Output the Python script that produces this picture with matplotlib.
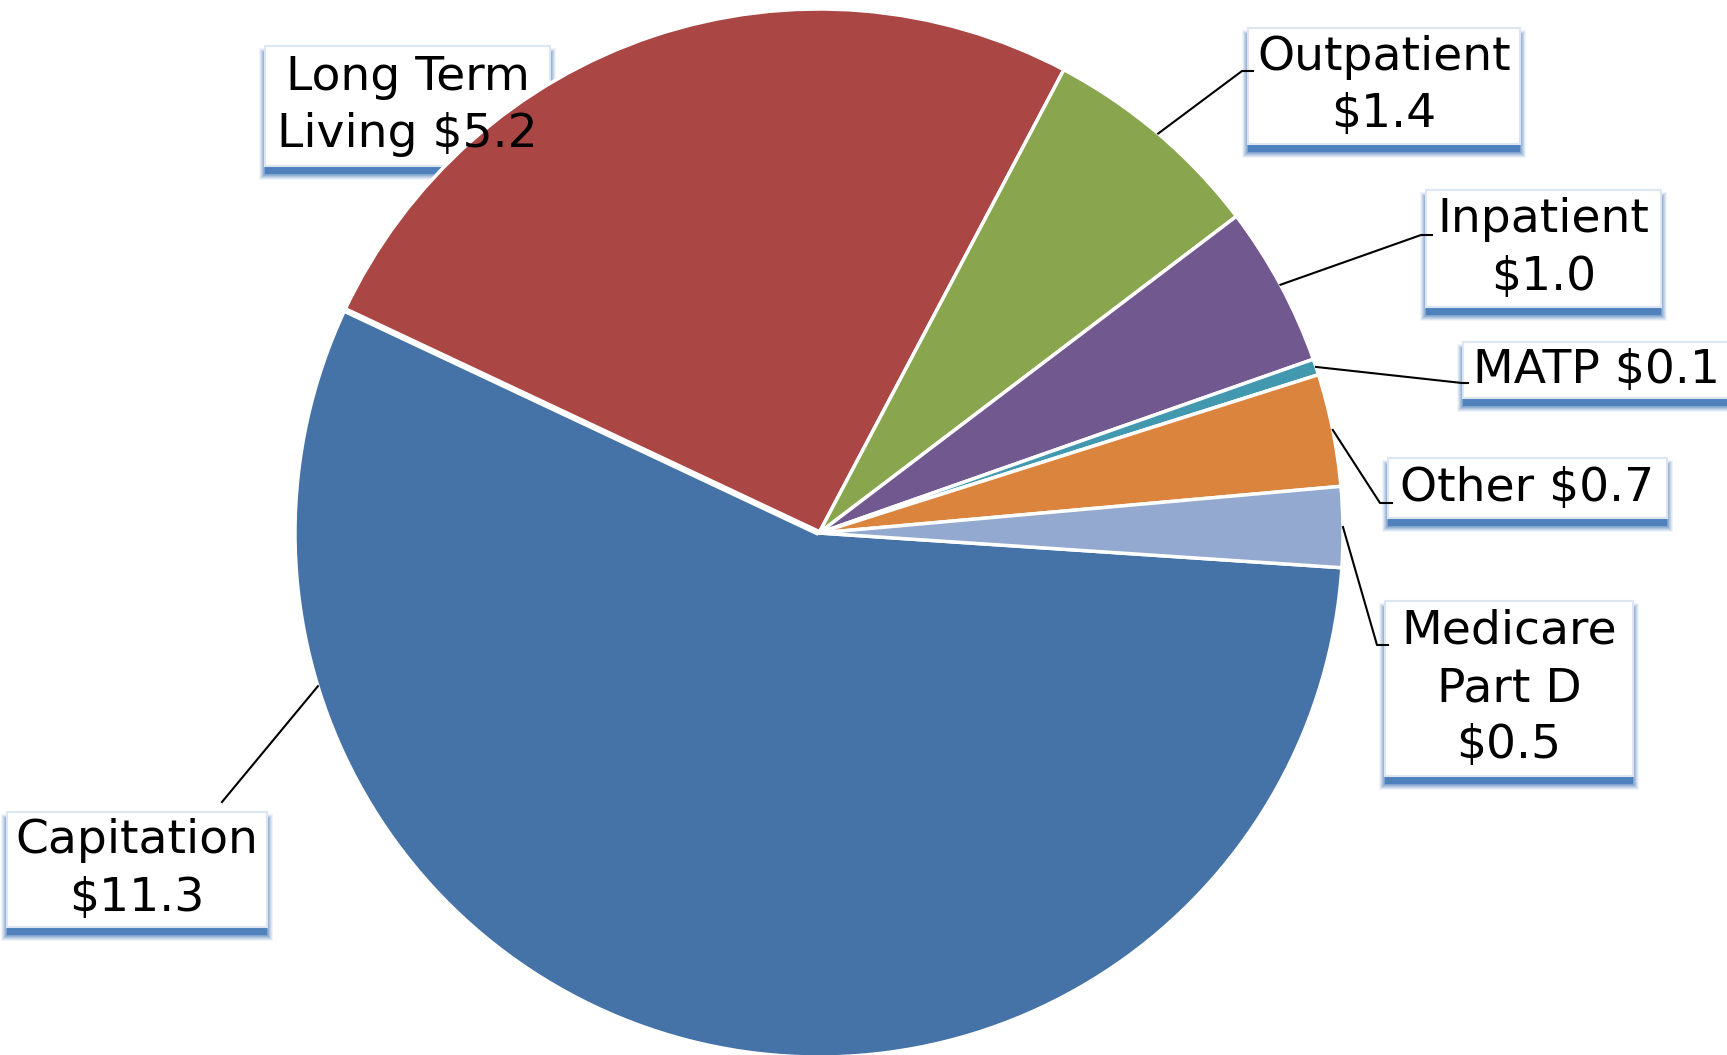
import numpy as np
import matplotlib.pyplot as plt
from matplotlib.patches import Rectangle

# data
categories = ['Capitation', 'Long Term Living', 'Outpatient', 'Inpatient',
              'MATP', 'Other', 'Medicare Part D']
values = [11.3, 5.2, 1.4, 1.0, 0.1, 0.7, 0.5]
label_texts = ['Capitation\n$11.3', 'Long Term\nLiving $5.2', 'Outpatient\n$1.4',
               'Inpatient\n$1.0', 'MATP $0.1', 'Other $0.7', 'Medicare\nPart D\n$0.5']
colors = ['#4572A7', '#AA4643', '#89A54E', '#71588F', '#4198AF', '#DB843D', '#93A9CF']

# label layout in image pixels (y down): box x0, y0, x1, y1
boxes = [(7, 812, 267, 927), (265, 46, 550, 166), (1248, 28, 1520, 144),
         (1426, 190, 1661, 307), (1463, 342, 1745, 398), (1388, 458, 1667, 518),
         (1385, 601, 1633, 776)]
# elbow of the leader line (None = no leader)
elbows = [(222, 802), None, (1242, 71), (1421, 235), (1462, 383), (1380, 503), (1377, 645)]
stub = [0, 0, 11, 11, 6, 12, 11]
anchor_override = {0: -163.0}

W, H = 1727, 1055
fig = plt.figure(figsize=(W / 100, H / 100), dpi=100)
ax = fig.add_axes([0, 0, 1, 1])

cx, cy, R = 819, 533, 524
wedges, _ = ax.pie(values, colors=colors, startangle=-3.8, counterclock=False,
                   center=(cx, H - cy), radius=R,
                   wedgeprops=dict(edgecolor='white', linewidth=2.5))
ax.set_xlim(0, W)
ax.set_ylim(0, H)
ax.set_aspect('equal')
ax.axis('off')

# wider gap between Capitation and Long Term Living
t = np.radians(wedges[0].theta1)
ax.plot([cx, cx + R * np.cos(t)], [H - cy, H - cy + R * np.sin(t)],
        color='white', linewidth=4.5, solid_capstyle='butt', zorder=1.5)

for i, w in enumerate(wedges):
    x0, y0, x1, y1 = boxes[i]
    bw, bh = x1 - x0, y1 - y0
    # soft shadow (behind the pie)
    for k, a in zip(range(6, 0, -1), [0.08, 0.12, 0.16, 0.2, 0.25, 0.3]):
        ax.add_patch(Rectangle((x0 - k, H - y1 - 8 - k), bw + 2 * k, bh + 2 * k,
                               facecolor='#4F81BD', edgecolor='none', alpha=a, zorder=0.2))
    ax.add_patch(Rectangle((x0, H - y1 - 8), bw, bh,
                           facecolor='#4F81BD', edgecolor='none', zorder=0.3))
    ax.add_patch(Rectangle((x0, H - y1), bw, bh,
                           facecolor='white', edgecolor='#DCE6F2', linewidth=1.5, zorder=0.4))
    if i == 4:
        ax.text(x0 + 10, H - (y0 + y1) / 2, label_texts[i], ha='left', va='center',
                fontsize=34, linespacing=1.35, zorder=5)
    else:
        ax.text((x0 + x1) / 2, H - (y0 + y1) / 2, label_texts[i], ha='center', va='center',
                fontsize=34, linespacing=1.35, zorder=5)

    if elbows[i] is not None:
        ang = anchor_override.get(i, (w.theta1 + w.theta2) / 2)
        ax_ = cx + R * np.cos(np.radians(ang))
        ay_ = (H - cy) + R * np.sin(np.radians(ang))
        ex, ey = elbows[i]
        ax.plot([ax_, ex, ex + stub[i]], [ay_, H - ey, H - ey], color='black',
                linewidth=1.5, zorder=4)

fig.savefig('out.png', dpi=100)
